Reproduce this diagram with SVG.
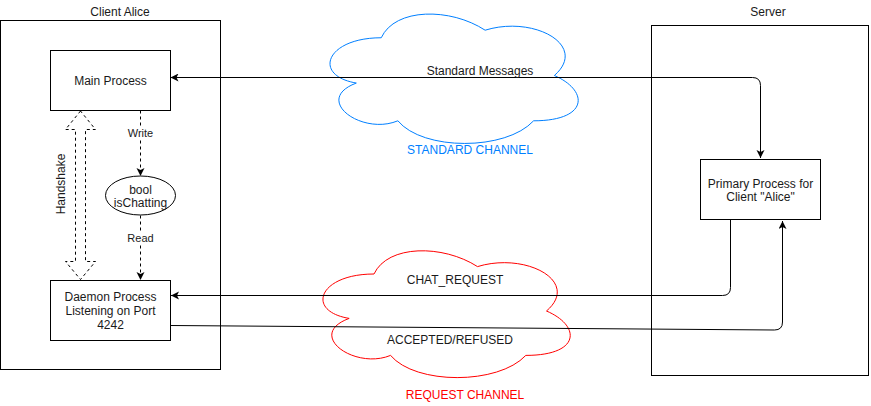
<svg xmlns="http://www.w3.org/2000/svg" width="871" height="406" viewBox="0 0 871 406">
<style>
text{font-family:"Liberation Sans",Arial,sans-serif;font-size:12px;fill:#1a1a1a;text-anchor:middle}
.box{fill:#fff;stroke:#000;stroke-width:1}
.cont{fill:none;stroke:#000;stroke-width:1}
.ln{fill:none;stroke:#000;stroke-width:1}
.dash{fill:none;stroke:#000;stroke-width:1;stroke-dasharray:3 3}
.small{font-size:11px}
</style>
<defs>
<marker id="arr" markerWidth="10" markerHeight="10" refX="8" refY="4" orient="auto" markerUnits="userSpaceOnUse">
<path d="M0,0 L8,4 L0,8 L2,4 Z" fill="#000"/>
</marker>
<marker id="arrs" markerWidth="10" markerHeight="10" refX="0" refY="4" orient="auto" markerUnits="userSpaceOnUse">
<path d="M8,0 L0,4 L8,8 L6,4 Z" fill="#000"/>
</marker>
</defs>
<rect width="871" height="406" fill="#fff"/>
<g id="client-alice">
<rect class="cont" x="0.5" y="20.5" width="220" height="349"/>
<text x="120" y="16">Client Alice</text>
</g>
<g id="server">
<rect class="cont" x="651.5" y="25.5" width="217" height="350"/>
<text x="768" y="16">Server</text>
</g>
<g id="standard-channel">
<path d="M381.25,37.75 C325.85,37.75 312,75.5 356.32,83.05 C312,99.66 361.86,135.9 397.87,120.8 C422.8,151 505.9,151 533.6,120.8 C589,120.8 589,90.6 554.375,75.5 C589,45.3 533.6,15.1 485.125,30.2 C450.5,7.55 395.1,7.55 381.25,37.75 Z" fill="#fff" stroke="#007FFF" stroke-width="1"/>
<text x="470" y="154" style="fill:#007FFF">STANDARD CHANNEL</text>
</g>
<g id="request-channel">
<path d="M374,274 C318.8,274 305,311 349.16,318.4 C305,334.68 354.68,370.2 390.56,355.4 C415.4,385 498.2,385 525.8,355.4 C581,355.4 581,325.8 546.5,311 C581,281.4 525.8,251.8 477.5,266.6 C443,244.4 387.8,244.4 374,274 Z" fill="#fff" stroke="#FF0000" stroke-width="1"/>
<text x="465" y="399" style="fill:#FF0000">REQUEST CHANNEL</text>
</g>
<g id="connectors">
<path class="ln" d="M170.5,77.5 L752.5,77.5 Q760.5,77.5 760.5,85.5 L760.5,158" marker-start="url(#arrs)" marker-end="url(#arr)"/>
<text x="480" y="75">Standard Messages</text>
<path class="ln" d="M730.5,219.5 L730.5,287.5 Q730.5,295.5 722.5,295.5 L171,295.5" marker-end="url(#arr)"/>
<text x="455" y="284">CHAT_REQUEST</text>
<path class="ln" d="M170.5,325.5 L774.5,330 Q782.5,330 782.5,322 L782.5,221" marker-end="url(#arr)"/>
<text x="450" y="344">ACCEPTED/REFUSED</text>
<path class="dash" d="M140.5,110.5 L140.5,176" marker-end="url(#arr)"/>
<rect x="125" y="126" width="31" height="14" fill="#fff"/>
<text class="small" x="140.5" y="137">Write</text>
<path class="dash" d="M140.5,215.5 L140.5,280" marker-end="url(#arr)"/>
<rect x="126" y="231" width="29" height="14" fill="#fff"/>
<text class="small" x="140.5" y="242">Read</text>
<path class="dash" d="M80.5,111 L65.5,129.5 L75.5,129.5 L75.5,261.5 L65.5,261.5 L80.5,279.5 L95.5,261.5 L85.5,261.5 L85.5,129.5 L95.5,129.5 Z" fill="#fff"/>
<text x="0" y="0" transform="translate(65,184) rotate(-90)">Handshake</text>
</g>
<g id="main-process">
<rect class="box" x="50.5" y="50.5" width="120" height="60"/>
<text x="110.5" y="85">Main Process</text>
</g>
<g id="is-chatting">
<ellipse cx="140.5" cy="195.5" rx="35" ry="19.5" fill="#fff" stroke="#000"/>
<text x="140.5" y="194">bool</text>
<text x="140.5" y="207">isChatting</text>
</g>
<g id="daemon-process">
<rect class="box" x="50.5" y="280.5" width="120" height="60"/>
<text x="110.5" y="301">Daemon Process</text>
<text x="110.5" y="315">Listening on Port</text>
<text x="110.5" y="329">4242</text>
</g>
<g id="primary-process">
<rect class="box" x="700.5" y="159.5" width="120" height="60"/>
<text x="760.5" y="187.5">Primary Process for</text>
<text x="760.5" y="201">Client "Alice"</text>
</g>
</svg>
